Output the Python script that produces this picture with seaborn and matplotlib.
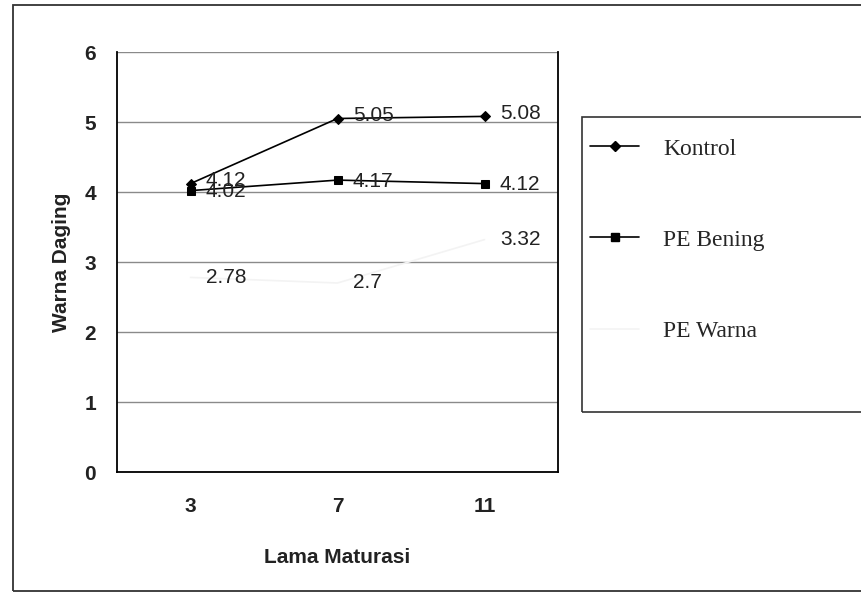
import matplotlib
matplotlib.use("Agg")
import matplotlib.pyplot as plt
import seaborn as sns
import numpy as np
import pandas as pd
from matplotlib.patches import Rectangle
from matplotlib.lines import Line2D

categories = ["3", "7", "11"]
kontrol = [4.12, 5.05, 5.08]
pe_bening = [4.02, 4.17, 4.12]
pe_warna = [2.78, 2.7, 3.32]
series_names = ["Kontrol", "PE Bening", "PE Warna"]
y_ticks = [0, 1, 2, 3, 4, 5, 6]

sns.set_theme(style="white")
plt.rcParams['font.family'] = ['Liberation Sans', 'DejaVu Sans']

fig = plt.figure(figsize=(8.61, 5.95), dpi=100)
ax = fig.add_axes([117/861, 1-472/595, (558-117)/861, (472-52)/595])

pos = np.arange(len(categories))
styles = {
    "Kontrol": dict(marker="D", color="black", ms=5, dy=2),
    "PE Bening": dict(marker="s", color="black", ms=6, dy=-1),
    "PE Warna": dict(marker=None, color="#f3f3f3", ms=0, dy=0),
}
values = {"Kontrol": kontrol, "PE Bening": pe_bening, "PE Warna": pe_warna}

handles = []
for name in series_names:
    st = styles[name]
    df = pd.DataFrame({"x": pos, "y": values[name]})
    sns.lineplot(data=df, x="x", y="y", ax=ax, color=st["color"], marker=st["marker"],
                 markersize=st["ms"], markeredgecolor=st["color"], linewidth=1.2, legend=False)
    for xi, yi in zip(pos, values[name]):
        ax.annotate(f"{yi:g}", (xi, yi), xytext=(11, st["dy"]), textcoords="offset points",
                    ha="left", va="center", fontsize=15, color="#222222")
    handles.append(Line2D([0], [0], color=st["color"], marker=st["marker"], markersize=st["ms"],
                          linewidth=1.2))

ax.set_xlim(-0.5, len(categories) - 0.5)
ax.set_ylim(0, 6)
ax.set_yticks(y_ticks)
ax.set_yticklabels([str(t) for t in y_ticks], fontsize=15, fontweight="bold", color="#222222")
ax.set_xticks(pos)
ax.set_xticklabels(categories, fontsize=15, fontweight="bold", color="#222222")
ax.set_xticks(np.arange(-0.5, len(categories)), minor=True)
ax.tick_params(axis="x", which="major", length=0, pad=18)
ax.tick_params(axis="x", which="minor", length=6, width=1, color="black", direction="out")
ax.tick_params(axis="y", length=7, width=1, color="#555555", direction="out", pad=8)
ax.grid(axis="y", color="#8a8a8a", linewidth=1)
ax.set_axisbelow(True)
for s in ["left", "right", "bottom"]:
    ax.spines[s].set_visible(True)
    ax.spines[s].set_color("black")
    ax.spines[s].set_linewidth(1.3)
ax.spines["top"].set_visible(False)
ax.set_xlabel("Lama Maturasi", fontsize=15, fontweight="bold", labelpad=23, color="#222222")
ax.set_ylabel("Warna Daging", fontsize=15, fontweight="bold", labelpad=10, color="#222222")

# legend frame
fig.patches.append(Rectangle((582/861, 1-412/595), 0.5, (412-117)/595, transform=fig.transFigure,
                             fill=False, edgecolor="#333333", linewidth=1.2))
# outer frame
fig.patches.append(Rectangle((13/861, 1-591/595), 1.2, (591-5)/595, transform=fig.transFigure,
                             fill=False, edgecolor="#333333", linewidth=1.3))

leg = fig.legend(handles, series_names, loc="center left", bbox_to_anchor=(578/861, 1-240/595),
                 frameon=False, prop={"family": "Liberation Serif", "size": 17},
                 handlelength=2.1, handletextpad=1.0, labelspacing=2.95, borderpad=0)

fig.savefig("out.png", dpi=100)
